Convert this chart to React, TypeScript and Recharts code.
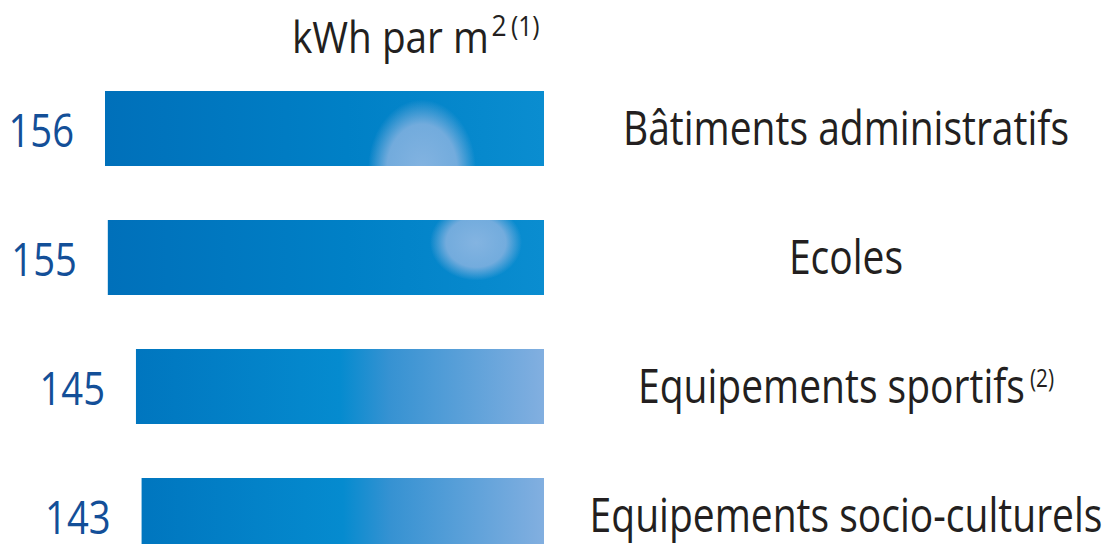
import { BarChart, Bar, XAxis, YAxis, LabelList } from 'recharts'

// Consommation moyenne par type de bâtiment
const categories = ['Bâtiments administratifs', 'Ecoles', 'Equipements sportifs', 'Equipements socio-culturels']
const kwhPerM2 = [156, 155, 145, 143]
const footnotes = ['', '', '(2)', '']

const data = categories.map((name, i) => ({ name, kwh: kwhPerM2[i] }))

const FONT = '"Open Sans", sans-serif'
const SQUEEZE = 0.83

// soft highlights painted on top of the first two bars
const GLOWS: ({ dx: number; cy: number; rx: number; ry: number } | null)[] = [
  { dx: 122, cy: 1.05, rx: 54, ry: 70 },
  { dx: 68, cy: 0.3, rx: 46, ry: 38 },
  null,
  null,
]

function GradientBar(props: any) {
  const { x, y, width, height, index } = props
  const left = Math.min(x, x + width)
  const w = Math.abs(width)
  const right = left + w
  const glow = GLOWS[index]
  const fill = index < 2 ? 'url(#barDeep)' : 'url(#barFade)'
  return (
    <g>
      <clipPath id={`bar-clip-${index}`}>
        <rect x={left} y={y} width={w} height={height} />
      </clipPath>
      <rect x={left} y={y} width={w} height={height} fill={fill} />
      {glow && (
        <ellipse
          cx={right - glow.dx}
          cy={y + height * glow.cy}
          rx={glow.rx}
          ry={glow.ry}
          fill="url(#glow)"
          clipPath={`url(#bar-clip-${index})`}
        />
      )}
    </g>
  )
}

function ValueLabel(props: any) {
  const { x, y, width, height, value } = props
  const left = Math.min(x, x + width)
  return (
    <text
      transform={`translate(${left - 31},${y + height / 2 + 18}) scale(${SQUEEZE},1)`}
      textAnchor="end"
      fontFamily={FONT}
      fontSize={46}
      fill="#134f98"
    >
      {value}
    </text>
  )
}

function CategoryLabel(props: any) {
  const { x, y, width, height, value } = props
  const right = Math.max(x, x + width)
  const note = footnotes[categories.indexOf(value)]
  return (
    <text
      transform={`translate(${right + 302},${y + height / 2 + 16}) scale(${SQUEEZE},1)`}
      textAnchor="middle"
      fontFamily={FONT}
      fontSize={47}
      fill="#231f20"
    >
      {value}
      {note && (
        <tspan fontSize={25} dx={6} dy={-16}>
          {note}
        </tspan>
      )}
    </text>
  )
}

export default function App() {
  return (
    <div
      style={{
        position: 'absolute',
        left: 0,
        top: 0,
        width: 1117,
        height: 544,
        overflow: 'hidden',
        background: '#fff',
      }}
    >
      <svg width={1117} height={80} style={{ position: 'absolute', left: 0, top: 0 }}>
        <text
          transform="translate(292,53) scale(0.88,1)"
          fontFamily={FONT}
          fontSize={44}
          fill="#231f20"
        >
          kWh par m
          <tspan fontSize={30} dx={3} dy={-17}>
            2
          </tspan>
          <tspan fontSize={28} dx={5}>
            (1)
          </tspan>
        </text>
      </svg>
      <div style={{ position: 'absolute', left: 0, top: 0 }}>
        <BarChart
          width={1117}
          height={600}
          data={data}
          layout="vertical"
          margin={{ top: 64, right: 573, bottom: 20, left: 105 }}
        >
          <defs>
            <linearGradient id="barDeep" x1="0" y1="0" x2="1" y2="0">
              <stop offset="0%" stopColor="#0070ba" />
              <stop offset="55%" stopColor="#0080c6" />
              <stop offset="100%" stopColor="#0a8dd0" />
            </linearGradient>
            <linearGradient id="barFade" x1="0" y1="0" x2="1" y2="0">
              <stop offset="0%" stopColor="#0076bf" />
              <stop offset="50%" stopColor="#058bcf" />
              <stop offset="62%" stopColor="#3692d2" />
              <stop offset="100%" stopColor="#82afe0" />
            </linearGradient>
            <radialGradient id="glow">
              <stop offset="0%" stopColor="#8ab6e2" stopOpacity={0.95} />
              <stop offset="65%" stopColor="#86b2e0" stopOpacity={0.85} />
              <stop offset="100%" stopColor="#86b2e0" stopOpacity={0} />
            </radialGradient>
          </defs>
          <XAxis type="number" domain={[0, 156]} reversed hide />
          <YAxis type="category" dataKey="name" hide />
          <Bar dataKey="kwh" barSize={75} shape={<GradientBar />} isAnimationActive={false}>
            <LabelList dataKey="kwh" content={<ValueLabel />} />
            <LabelList dataKey="name" content={<CategoryLabel />} />
          </Bar>
        </BarChart>
      </div>
    </div>
  )
}
